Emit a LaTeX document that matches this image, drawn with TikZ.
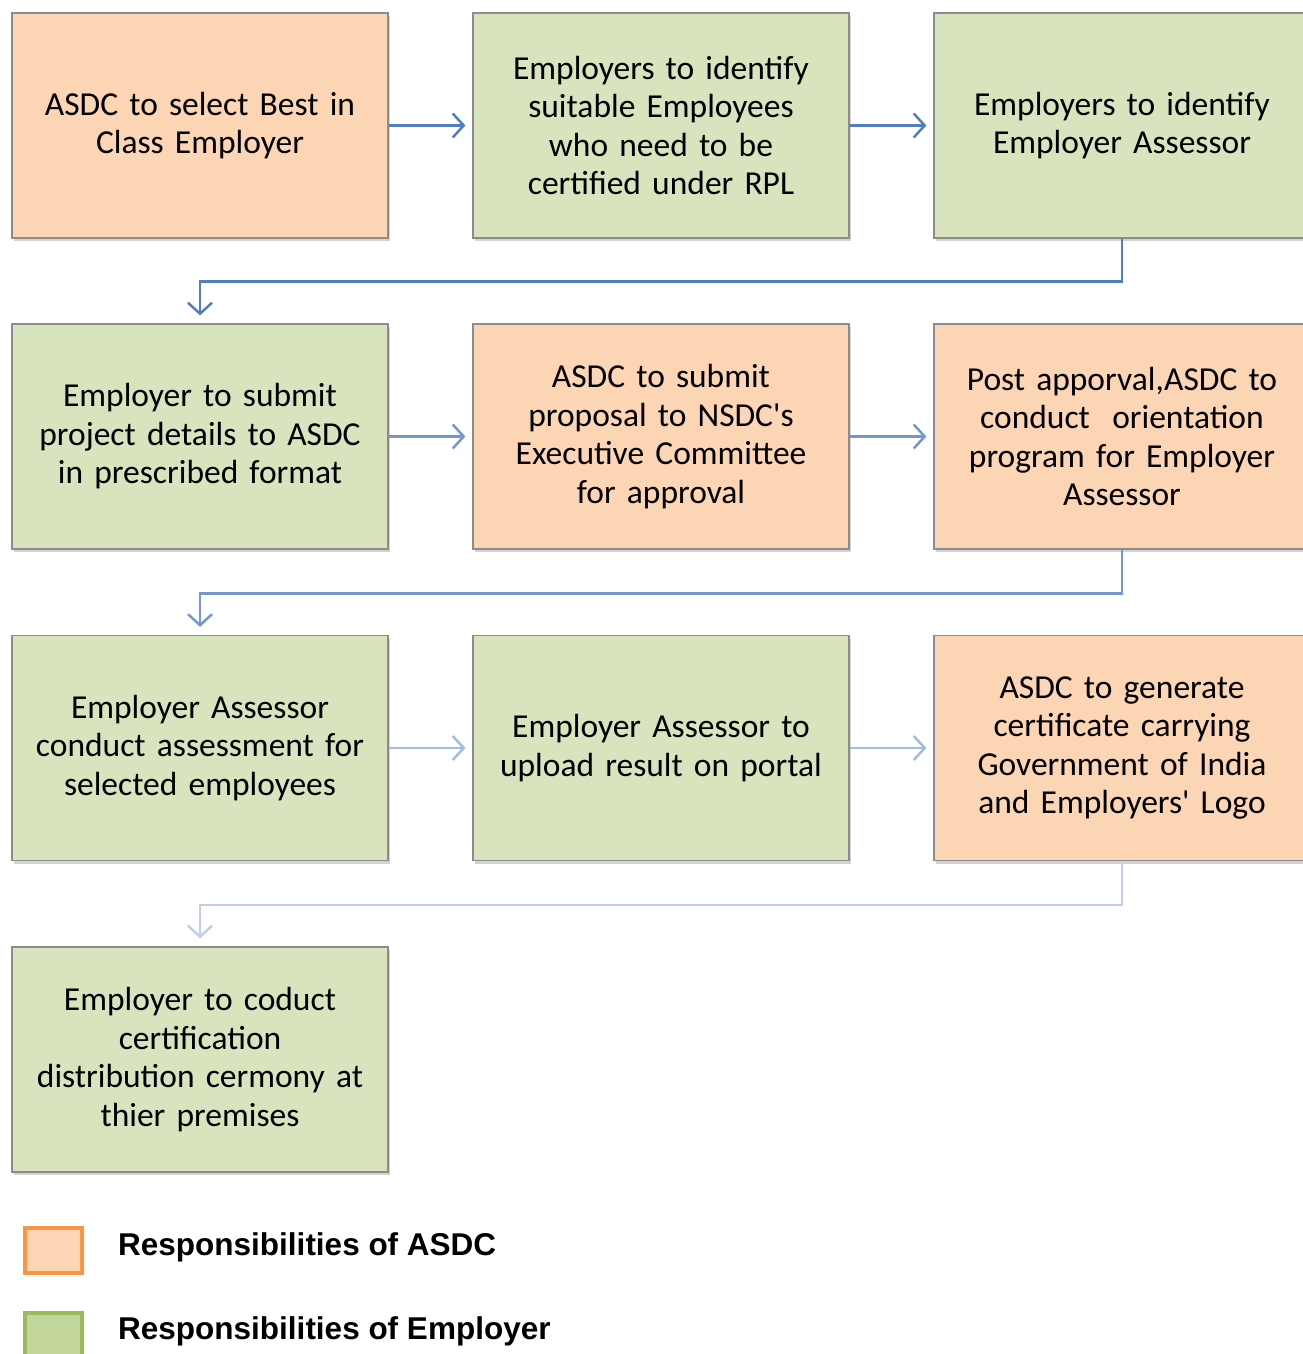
\documentclass[tikz,border=0pt]{standalone}
\usepackage{fontspec}
\setmainfont{Carlito}
\newfontfamily\legendfont{Liberation Sans}
\usetikzlibrary{arrows.meta, shadows}
\definecolor{asdcfill}{HTML}{FCD5B5}
\definecolor{empfill}{HTML}{D7E4BD}
\definecolor{asdcline}{HTML}{F79646}
\definecolor{empline}{HTML}{9BBB59}
\definecolor{emplegend}{HTML}{C3D69B}
\definecolor{flowA}{HTML}{4F7FBE}
\definecolor{flowB}{HTML}{7398CC}
\definecolor{flowC}{HTML}{A5BCDE}
\definecolor{flowD}{HTML}{BFCFE7}
\tikzstyle{stepbox} = [draw=black!45, line width=1.2pt, minimum width=376pt, minimum height=225pt, text width=360pt, align=center, inner sep=0pt, font=\fontsize{33.5}{38.5}\selectfont, drop shadow={shadow xshift=2pt, shadow yshift=-3pt, opacity=0.35}]
\tikzstyle{asdc} = [stepbox, fill=asdcfill]
\tikzstyle{emp} = [stepbox, fill=empfill]
\tikzstyle{arrow} = [line width=2.5pt, -{Straight Barb[length=11pt, width=24pt, line width=2.5pt]}]

\begin{document}
\begin{tikzpicture}[x=1pt, y=-1pt]
        \useasboundingbox (0,0) rectangle (1303,1354);
        % Boxes, row by row
        \node[asdc] (A) at (200,125.5) {ASDC to select Best in\\Class Employer};
        \node[emp] (B) at (661,125.5) {Employers to identify\\suitable Employees\\who need to be\\certified under RPL};
        \node[emp] (C) at (1122,125.5) {Employers to identify\\Employer Assessor};
        \node[emp] (D) at (200,436.5) {Employer to submit\\project details to ASDC\\in prescribed format};
        \node[asdc] (E) at (661,436.5) {ASDC to submit\\proposal to NSDC\textquotesingle s\\Executive Committee\\for approval};
        \node[asdc] (F) at (1122,436.5) {Post apporval,ASDC to\\conduct\ \ orientation\\program for Employer\\Assessor};
        \node[emp] (G) at (200,748) {Employer Assessor\\conduct assessment for\\selected employees};
        \node[emp] (H) at (661,748) {Employer Assessor to\\upload result on portal};
        \node[asdc] (I) at (1122,748) {ASDC to generate\\certificate carrying\\Government of India\\and Employers\textquotesingle\ Logo};
        \node[emp] (J) at (200,1059.5) {Employer to coduct\\certification\\distribution cermony at\\thier premises};

        % Connectors
        \draw[arrow, flowA] (A.east) -- ([xshift=-7pt]B.west);
        \draw[arrow, flowA] (B.east) -- ([xshift=-7pt]C.west);
        \draw[arrow, flowA] (C.south) -- ++(0,43) -| ([yshift=8pt]D.north);
        \draw[arrow, flowB] (D.east) -- ([xshift=-7pt]E.west);
        \draw[arrow, flowB] (E.east) -- ([xshift=-7pt]F.west);
        \draw[arrow, flowB] (F.south) -- ++(0,44) -| ([yshift=8pt]G.north);
        \draw[arrow, flowC] (G.east) -- ([xshift=-7pt]H.west);
        \draw[arrow, flowC] (H.east) -- ([xshift=-7pt]I.west);
        \draw[arrow, flowD] (I.south) -- ++(0,44) -| ([yshift=8pt]J.north);

        % Legend
        \node[draw=asdcline, line width=4pt, fill=asdcfill, minimum width=57pt, minimum height=45pt] (keyA) at (53,1250) {};
        \node[draw=empline, line width=4pt, fill=emplegend, minimum width=57pt, minimum height=45pt] (keyB) at (53,1335) {};
        \node[anchor=west, inner sep=0pt, font=\legendfont\bfseries\fontsize{31.5}{36}\selectfont] (txtA) at (118,1247) {Responsibilities of ASDC};
        \node[anchor=west, inner sep=0pt, font=\legendfont\bfseries\fontsize{31.5}{36}\selectfont] (txtB) at (118,1331) {Responsibilities of Employer};
      \end{tikzpicture}
\end{document}
